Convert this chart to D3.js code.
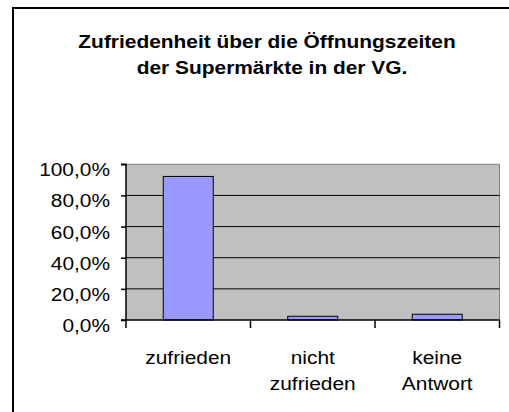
<!DOCTYPE html>
<html><head><meta charset="utf-8">
<script src="https://cdn.jsdelivr.net/npm/d3@7"></script>
<style>body{margin:0;background:#fff;}svg{display:block;}</style>
</head><body>
<script>
const categories = [["zufrieden"], ["nicht", "zufrieden"], ["keine", "Antwort"]];
const values = [0.922, 0.024, 0.037];
const yTicks = [0, 0.2, 0.4, 0.6, 0.8, 1.0];
const titleLines = ["Zufriedenheit über die Öffnungszeiten", "der Supermärkte in der VG."];

(function () {
const W = 509, H = 412;
const svg = d3.select("body").append("svg").attr("width", W).attr("height", H);
const font = "'Liberation Sans', Arial, sans-serif";
const sx = 1.1;
const fs = 19;

svg.append("rect").attr("x", 13).attr("y", 8).attr("width", 540).attr("height", 440)
  .attr("fill", "#fff").attr("stroke", "#000").attr("stroke-width", 2);

const titleX = [267, 272];
const titleY = [47.5, 74];
titleLines.forEach((t, i) => {
  svg.append("text").attr("transform", `translate(${titleX[i]},${titleY[i]}) scale(${sx},1)`)
    .attr("text-anchor", "middle").attr("font-family", font).attr("font-weight", "bold")
    .attr("font-size", fs).attr("fill", "#000").text(t);
});

const pl = 126, pr = 499.5, pt = 164.3, pb = 320;
const x = d3.scaleBand().domain(categories.map((d, i) => i)).range([pl, pr]).paddingInner(0).paddingOuter(0);
const y = d3.scaleLinear().domain([0, 1]).range([pb, pt]);

svg.append("rect").attr("x", pl).attr("y", pt).attr("width", pr - pl).attr("height", pb - pt)
  .attr("fill", "#c0c0c0");
svg.append("path").attr("d", `M${pl},${pt}H${pr}V${pb}`).attr("fill", "none")
  .attr("stroke", "#808080").attr("stroke-width", 1);

yTicks.filter(v => v > 0 && v < 1).forEach(v => {
  svg.append("line").attr("x1", pl).attr("x2", pr).attr("y1", y(v)).attr("y2", y(v))
    .attr("stroke", "#000").attr("stroke-width", 1);
});

const bw = 50;
svg.selectAll("rect.bar").data(values).enter().append("rect").attr("class", "bar")
  .attr("x", (d, i) => x(i) + x.bandwidth() / 2 - bw / 2)
  .attr("y", d => y(d)).attr("width", bw).attr("height", d => pb - y(d))
  .attr("fill", "#9999ff").attr("stroke", "#000").attr("stroke-width", 1);

const yAxis = d3.axisLeft(y).tickValues(yTicks).tickSize(5).tickFormat(d => d3.format(".1f")(d * 100).replace(".", ",") + "%");
const ga = svg.append("g").attr("transform", `translate(${pl},0)`).call(yAxis);
ga.select(".domain").attr("stroke", "#000").attr("stroke-width", 1.5).attr("d", `M-5,${pt}H0V${pb}H-5`);
ga.selectAll(".tick line").attr("stroke", "#000").attr("stroke-width", 1.5);
ga.selectAll(".tick text").attr("font-family", font).attr("font-size", fs).attr("fill", "#000")
  .attr("dy", null).attr("y", 11.5)
  .attr("transform", `scale(${sx},1)`).attr("x", -16 / sx);

const xAxis = d3.axisBottom(x).tickSize(0).tickFormat("");
const gx = svg.append("g").attr("transform", `translate(0,${pb})`).call(xAxis);
gx.select(".domain").attr("stroke", "#000").attr("stroke-width", 1.5).attr("d", `M${pl},0H${pr}`);
gx.selectAll(".tick").remove();
const bounds = [pl, ...categories.map((d, i) => x(i) + x.bandwidth())];
bounds.forEach(b => {
  gx.append("line").attr("x1", b).attr("x2", b).attr("y1", 0).attr("y2", 8).attr("stroke", "#000").attr("stroke-width", 1.5);
});

categories.forEach((lines, i) => {
  lines.forEach((t, j) => {
    svg.append("text").attr("transform", `translate(${x(i) + x.bandwidth() / 2},${363.5 + j * 26}) scale(${sx},1)`)
      .attr("text-anchor", "middle").attr("font-family", font).attr("font-size", fs).attr("fill", "#000").text(t);
  });
});
})();
</script>
</body></html>
